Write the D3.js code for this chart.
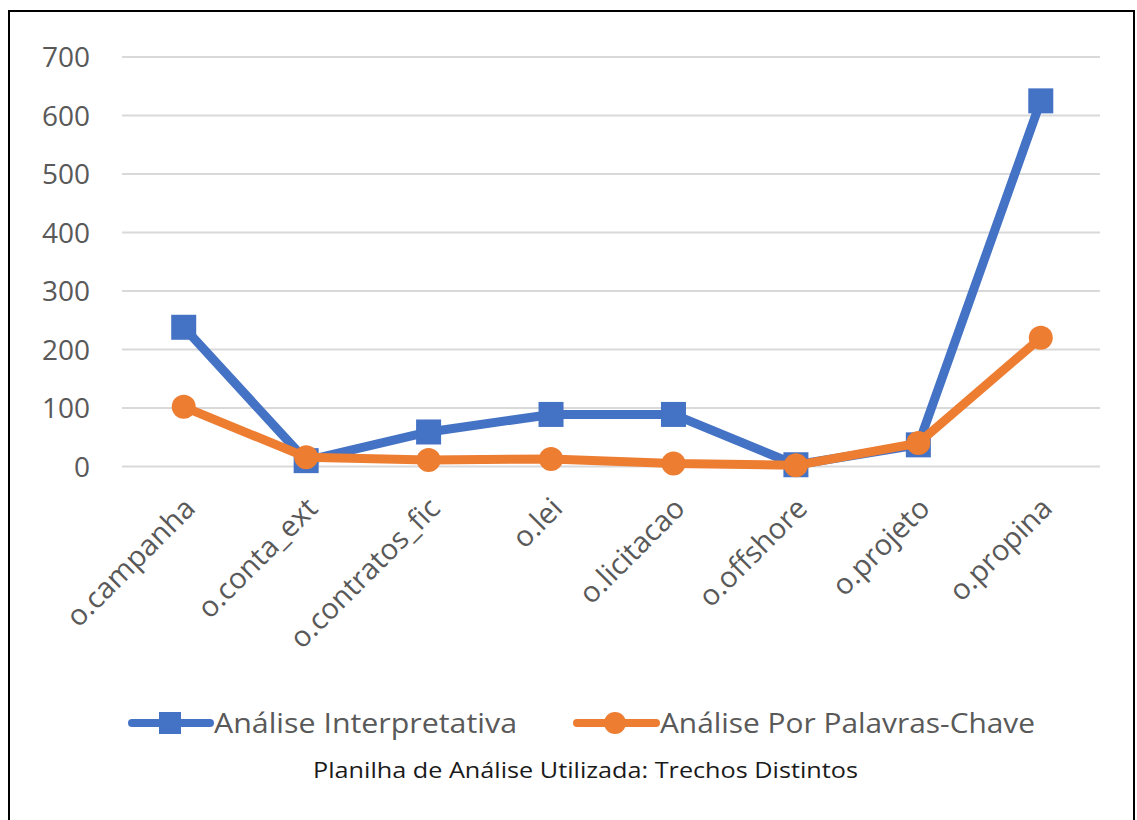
<!DOCTYPE html>
<html>
<head>
<meta charset="utf-8">
<script src="https://cdn.jsdelivr.net/npm/d3@7"></script>
<style>
  html, body { margin: 0; padding: 0; background: #fff; }
  svg { display: block; }
</style>
</head>
<body>
<svg id="chart" width="1137" height="820"></svg>
<script>
const categories = ["o.campanha", "o.conta_ext", "o.contratos_fic", "o.lei", "o.licitacao", "o.offshore", "o.projeto", "o.propina"];
const interpretativa = [238, 10, 59, 89, 89, 3, 37, 625];
const palavrasChave = [102, 16, 11, 13, 5, 2, 40, 220];
const yTicks = [0, 100, 200, 300, 400, 500, 600, 700];
const seriesNames = ["Análise Interpretativa", "Análise Por Palavras-Chave"];
const chartTitle = "Planilha de Análise Utilizada: Trechos Distintos";

const svg = d3.select("#chart");
const font = "'Open Sans', 'Noto Sans', sans-serif";
const blue = "#4472C4", orange = "#ED7D31", grey = "#595959";

// border
svg.append("rect").attr("x", 9).attr("y", 11).attr("width", 1125).attr("height", 830)
  .attr("fill", "none").attr("stroke", "#000").attr("stroke-width", 2);

const x = d3.scaleBand().domain(categories).range([122.5, 1102]);
const y = d3.scaleLinear().domain([0, 700]).range([466.5, 57]);

// gridlines
svg.append("g").selectAll("line").data(yTicks).join("line")
  .attr("x1", 122).attr("x2", 1100)
  .attr("y1", d => y(d)).attr("y2", d => y(d))
  .attr("stroke", "#d9d9d9").attr("stroke-width", 2);

// y axis labels
const yAxis = d3.axisLeft(y).tickValues(yTicks).tickSize(0).tickPadding(0);
const gy = svg.append("g").attr("transform", "translate(90,0)").call(yAxis);
gy.select(".domain").remove();
gy.selectAll("text").attr("font-family", font).attr("font-size", 28).attr("fill", grey).attr("dy", "0.34em");

// x axis labels
const cx = d => x(d) + x.bandwidth() / 2;
svg.append("g").selectAll("text").data(categories).join("text")
  .attr("transform", d => `translate(${cx(d) + 6},503) rotate(-45)`)
  .attr("text-anchor", "end").attr("dy", "0.35em")
  .attr("font-family", font).attr("font-size", 29).attr("fill", grey)
  .text(d => d);

const line = d3.line().x((d, i) => cx(categories[i])).y(d => y(d));

// blue series
svg.append("path").datum(interpretativa).attr("d", line)
  .attr("fill", "none").attr("stroke", blue).attr("stroke-width", 9).attr("stroke-linejoin", "round");
svg.append("g").selectAll("rect").data(interpretativa).join("rect")
  .attr("x", (d, i) => cx(categories[i]) - 12.5).attr("y", d => y(d) - 12.5)
  .attr("width", 25).attr("height", 25).attr("fill", blue);

// orange series
svg.append("path").datum(palavrasChave).attr("d", line)
  .attr("fill", "none").attr("stroke", orange).attr("stroke-width", 9).attr("stroke-linejoin", "round");
svg.append("g").selectAll("circle").data(palavrasChave).join("circle")
  .attr("cx", (d, i) => cx(categories[i])).attr("cy", d => y(d)).attr("r", 12)
  .attr("fill", orange);

// legend
const lg = svg.append("g");
lg.append("line").attr("x1", 132).attr("x2", 210).attr("y1", 723).attr("y2", 723)
  .attr("stroke", blue).attr("stroke-width", 8).attr("stroke-linecap", "round");
lg.append("rect").attr("x", 159).attr("y", 712).attr("width", 22).attr("height", 22).attr("fill", blue);
lg.append("text").attr("x", 214).attr("y", 733).attr("font-family", font).attr("font-size", 28)
  .attr("fill", grey).attr("textLength", 303).attr("lengthAdjust", "spacingAndGlyphs").text(seriesNames[0]);

lg.append("line").attr("x1", 577).attr("x2", 656).attr("y1", 723).attr("y2", 723)
  .attr("stroke", orange).attr("stroke-width", 8).attr("stroke-linecap", "round");
lg.append("circle").attr("cx", 615).attr("cy", 723).attr("r", 11).attr("fill", orange);
lg.append("text").attr("x", 660).attr("y", 733).attr("font-family", font).attr("font-size", 28)
  .attr("fill", grey).attr("textLength", 375).attr("lengthAdjust", "spacingAndGlyphs").text(seriesNames[1]);

// title (below legend)
svg.append("text").attr("x", 313).attr("y", 778)
  .attr("font-family", font).attr("font-size", 22).attr("fill", "#1a1a1a")
  .attr("textLength", 545).attr("lengthAdjust", "spacingAndGlyphs")
  .text(chartTitle);
</script>
</body>
</html>
